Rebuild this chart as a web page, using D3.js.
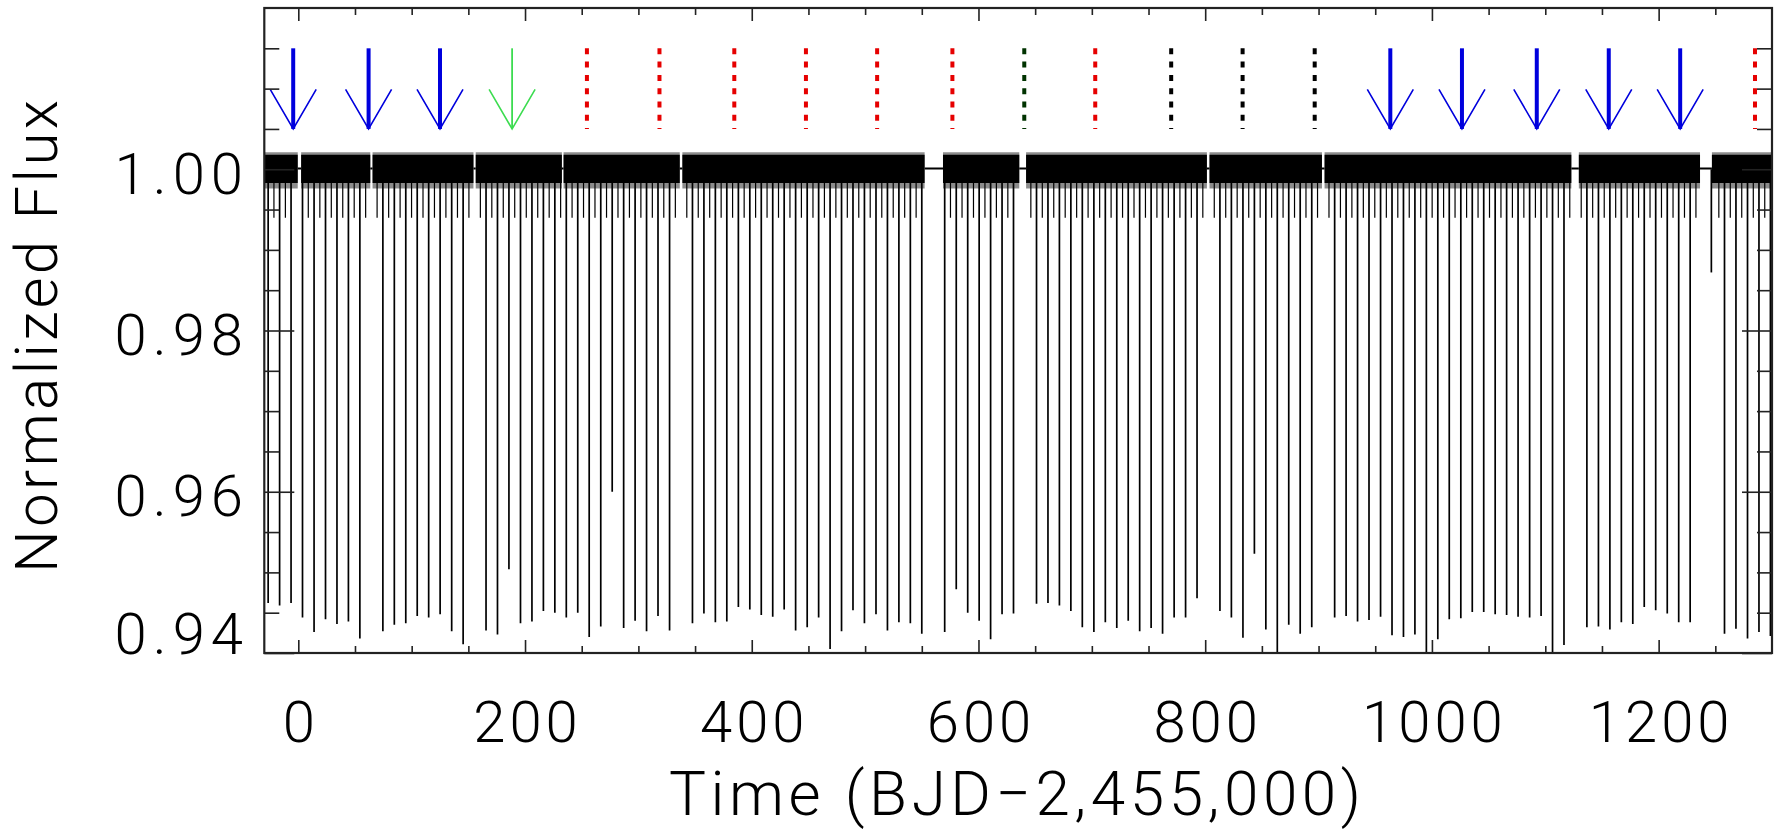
<!DOCTYPE html>
<html>
<head>
<meta charset="utf-8">
<script src="https://cdn.jsdelivr.net/npm/d3@7"></script>
<style>
body { margin: 0; background: #fff; }
text { font-family: Roboto, "Open Sans", "DejaVu Sans", sans-serif; font-weight: 300; fill: #000; }
</style>
</head>
<body>
<div id="chart"></div>
<script>
// primary eclipse times (BJD-2,455,000) and the lowest flux each one reaches, null = no data
var eclipseTimes = [-26.6, -16.5, -6.4, 3.7, 13.9, 24.0, 34.1, 44.2, 54.3, 64.4,
  74.6, 84.7, 94.8, 104.9, 115.0, 125.1, 135.3, 145.4, 155.5, 165.6,
  175.7, 185.8, 196.0, 206.1, 216.2, 226.3, 236.4, 246.5, 256.6, 266.8,
  276.9, 287.0, 297.1, 307.2, 317.3, 327.5, 337.6, 347.7, 357.8, 367.9,
  378.0, 388.2, 398.3, 408.4, 418.5, 428.6, 438.7, 448.9, 459.0, 469.1,
  479.2, 489.3, 499.4, 509.6, 519.7, 529.8, 539.9, 550.0, 560.1, 570.2,
  580.4, 590.5, 600.6, 610.7, 620.8, 630.9, 641.1, 651.2, 661.3, 671.4,
  681.5, 691.6, 701.8, 711.9, 722.0, 732.1, 742.2, 752.3, 762.4, 772.6,
  782.7, 792.8, 802.9, 813.0, 823.1, 833.3, 843.4, 853.5, 863.6, 873.7,
  883.8, 894.0, 904.1, 914.2, 924.3, 934.4, 944.5, 954.7, 964.8, 974.9,
  985.0, 995.1, 1005.2, 1015.3, 1025.5, 1035.6, 1045.7, 1055.8, 1065.9, 1076.0,
  1086.2, 1096.3, 1106.4, 1116.5, 1126.6, 1136.7, 1146.9, 1157.0, 1167.1, 1177.2,
  1187.3, 1197.4, 1207.6, 1217.7, 1227.8, 1237.9, 1246.5, 1258.1, 1268.2, 1278.4,
  1288.5, 1298.6];
var eclipseDepths = [0.9462, 0.9459, 0.9462, 0.9444, 0.9426, 0.9442, 0.9436, 0.9439, 0.9418, null,
  0.9427, 0.9435, 0.9437, 0.9446, 0.9444, 0.9448, 0.9427, 0.9411, null, 0.9428,
  0.9423, 0.9504, 0.9437, 0.9439, 0.9452, 0.9450, 0.9444, 0.9450, 0.9420, 0.9433,
  0.9600, 0.9431, 0.9440, 0.9427, 0.9446, 0.9428, null, 0.9437, 0.9449, 0.9438,
  0.9439, 0.9457, 0.9454, 0.9447, 0.9445, 0.9454, 0.9428, 0.9432, 0.9444, 0.9405,
  0.9427, 0.9453, 0.9437, 0.9448, 0.9428, 0.9438, 0.9437, 0.9424, null, 0.9426,
  0.9479, 0.9450, 0.9440, 0.9417, 0.9448, 0.9449, null, 0.9461, 0.9462, 0.9459,
  0.9452, 0.9432, 0.9426, 0.9438, 0.9431, 0.9440, 0.9427, 0.9431, 0.9424, 0.9444,
  0.9444, 0.9468, null, 0.9452, 0.9444, 0.9419, 0.9523, 0.9429, 0.9392, 0.9435,
  0.9424, 0.9432, null, 0.9444, 0.9446, 0.9439, 0.9441, 0.9445, 0.9422, 0.9420,
  0.9423, 0.9392, 0.9417, 0.9442, 0.9443, 0.9451, 0.9451, 0.9448, 0.9447, 0.9445,
  0.9444, 0.9446, 0.9392, 0.9410, null, 0.9432, 0.9433, 0.9429, 0.9438, 0.9436,
  0.9457, 0.9453, 0.9449, 0.9438, 0.9438, null, 0.9872, 0.9424, 0.9430, 0.9418,
  0.9426, 0.9421];

// secondary eclipses, all shallow
var secondaryTimes = [-21.5, -11.4, 8.8, 19.0, 29.1, 39.2, 49.3, 59.4, 69.5,
  79.7, 89.8, 99.9, 110.0, 120.1, 130.2, 140.4, 150.5, 160.6, 170.7,
  180.8, 190.9, 201.1, 211.2, 221.3, 231.4, 241.5, 251.6, 261.7, 271.9,
  282.0, 292.1, 302.2, 312.3, 322.4, 332.6, 342.7, 352.8, 362.9, 373.0,
  383.1, 393.3, 403.4, 413.5, 423.6, 433.7, 443.8, 454.0, 464.1, 474.2,
  484.3, 494.4, 504.5, 514.7, 524.8, 534.9, 545.0, 575.3,
  585.5, 595.6, 605.7, 615.8, 625.9, 646.2, 656.3, 666.4, 676.5,
  686.6, 696.7, 706.9, 717.0, 727.1, 737.2, 747.3, 757.4, 767.5, 777.7,
  787.8, 797.9, 808.0, 818.1, 828.2, 838.4, 848.5, 858.6, 868.7, 878.8,
  888.9, 899.1, 909.2, 919.3, 929.4, 939.5, 949.6, 959.8, 969.9, 980.0,
  990.1, 1000.2, 1010.3, 1020.4, 1030.6, 1040.7, 1050.8, 1060.9, 1071.0, 1081.1,
  1091.3, 1101.4, 1111.5, 1121.6, 1131.7, 1141.8, 1152.0, 1162.1, 1172.2, 1182.3,
  1192.4, 1202.5, 1212.7, 1222.8, 1232.9, 1253.1, 1263.2, 1273.3, 1283.5,
  1293.6];
var secondaryDepth = 0.9940;

// stretches with data
var segmentStarts = [-30, 2.5, 65.5, 156.5, 234.0, 338.8, 568.7, 642.0, 803.8, 905.3, 1129.6, 1247.0];
var segmentEnds = [-0.5, 63.5, 154.5, 232.5, 336.5, 552.5, 636.0, 801.5, 903.0, 1123.0, 1236.5, 1300];

// planet transit markers
var blueArrows = [-4.5, 62.0, 125.0, 963.3, 1026.5, 1092.5, 1156.0, 1219.0];
var greenArrows = [188.6];
var redMarks = [254.6, 318.6, 384.6, 447.8, 510.6, 577.0, 703.0, 1285.0];
var darkGreenMarks = [640.4];
var blackMarks = [770.0, 833.0, 896.6];

var xMajorTicks = [0, 200, 400, 600, 800, 1000, 1200];
var xMinorTicks = [50, 100, 150, 250, 300, 350, 450, 500, 550, 650, 700, 750, 850, 900, 950, 1050, 1100, 1150, 1250];
var yMajorTicks = [0.94, 0.96, 0.98, 1.00];
var yMinorTicks = [0.945, 0.95, 0.955, 0.965, 0.97, 0.975, 0.985, 0.99, 0.995, 1.005, 1.01, 1.015];

var xLabel = "Time (BJD\u22122,455,000)";
var yLabel = "Normalized Flux";

var width = 1781, height = 831;
var plotLeft = 264.3, plotRight = 1772, plotTop = 8, plotBottom = 653;

var svg = d3.select("#chart").append("svg")
            .attr("width", width)
            .attr("height", height);

var x = d3.scaleLinear().domain([-30, 1300]).range([plotLeft, plotRight]);
var y = d3.scaleLinear().domain([0.94, 1.02]).range([plotBottom, plotTop]);

svg.append("clipPath").attr("id", "plotclip")
   .append("rect")
   .attr("x", plotLeft).attr("y", plotTop)
   .attr("width", plotRight - plotLeft).attr("height", plotBottom - plotTop);

var plot = svg.append("g").attr("clip-path", "url(#plotclip)");

// flux band
var segments = segmentStarts.map(function(s, i) { return [s, segmentEnds[i]]; });
var fringe = d3.area()
               .x(function(d) { return x(d); })
               .y0(function() { return y(0.9976); })
               .y1(function() { return y(1.0021); });
var band = d3.area()
             .x(function(d) { return x(d); })
             .y0(function() { return y(0.9983); })
             .y1(function() { return y(1.0018); });

plot.selectAll(".fringe").data(segments).enter().append("path")
    .attr("d", function(d) { return fringe(d); })
    .attr("fill", "#000")
    .attr("fill-opacity", 0.45);
plot.selectAll(".band").data(segments).enter().append("path")
    .attr("d", function(d) { return band(d); })
    .attr("fill", "#000");

// lines joining across the gaps
var gaps = segmentEnds.slice(0, -1).map(function(e, i) { return [e, segmentStarts[i + 1]]; });
plot.selectAll(".gap").data(gaps).enter().append("line")
    .attr("x1", function(d) { return x(d[0]); })
    .attr("x2", function(d) { return x(d[1]); })
    .attr("y1", y(1.0001))
    .attr("y2", y(1.0001))
    .attr("stroke", "#000")
    .attr("stroke-width", 2);

plot.selectAll(".secondary").data(secondaryTimes).enter().append("line")
    .attr("x1", function(d) { return x(d); })
    .attr("x2", function(d) { return x(d); })
    .attr("y1", y(1.0))
    .attr("y2", y(secondaryDepth))
    .attr("stroke", "#000")
    .attr("stroke-width", 1.2);

var primaries = eclipseTimes.map(function(t, i) { return { t: t, depth: eclipseDepths[i] }; })
                            .filter(function(d) { return d.depth !== null; });
plot.selectAll(".primary").data(primaries).enter().append("line")
    .attr("x1", function(d) { return x(d.t); })
    .attr("x2", function(d) { return x(d.t); })
    .attr("y1", y(1.0))
    .attr("y2", function(d) { return y(d.depth); })
    .attr("stroke", "#000")
    .attr("stroke-width", 1.7);

// markers
var markTop = 1.015, markTip = 1.005, wingLevel = 1.0099, wingHalf = 23;

function drawArrows(times, color, shaftWidth) {
  var g = svg.append("g");
  g.selectAll("line").data(times).enter().append("line")
   .attr("x1", function(d) { return x(d); })
   .attr("x2", function(d) { return x(d); })
   .attr("y1", y(markTop))
   .attr("y2", y(markTip))
   .attr("stroke", color)
   .attr("stroke-width", shaftWidth);
  g.selectAll("path").data(times).enter().append("path")
   .attr("d", function(d) {
     return "M" + (x(d) - wingHalf) + "," + y(wingLevel) +
            "L" + x(d) + "," + y(markTip) +
            "L" + (x(d) + wingHalf) + "," + y(wingLevel);
   })
   .attr("fill", "none")
   .attr("stroke", color)
   .attr("stroke-width", 1.6);
}
drawArrows(blueArrows, "#0000dd", 4);
drawArrows(greenArrows, "#3cdc50", 1.8);

function drawDashes(times, color) {
  svg.append("g").selectAll("line").data(times).enter().append("line")
     .attr("x1", function(d) { return x(d); })
     .attr("x2", function(d) { return x(d); })
     .attr("y1", y(markTop))
     .attr("y2", y(markTip))
     .attr("stroke", color)
     .attr("stroke-width", 4)
     .attr("stroke-dasharray", "6,7.3");
}
drawDashes(redMarks, "#e60000");
drawDashes(darkGreenMarks, "#003300");
drawDashes(blackMarks, "#000");

// axes
function styleAxis(g) {
  g.select(".domain").remove();
  g.selectAll(".tick line").attr("stroke", "#222").attr("stroke-width", 1.6);
}

var gBottomMinor = svg.append("g").attr("transform", "translate(0," + plotBottom + ")")
  .call(d3.axisBottom(x).tickValues(xMinorTicks).tickSize(-7).tickFormat(""));
var gBottom = svg.append("g").attr("transform", "translate(0," + plotBottom + ")")
  .call(d3.axisBottom(x).tickValues(xMajorTicks).tickSize(-13).tickFormat(d3.format("d")));
var gTopMinor = svg.append("g").attr("transform", "translate(0," + plotTop + ")")
  .call(d3.axisTop(x).tickValues(xMinorTicks).tickSize(-7).tickFormat(""));
var gTop = svg.append("g").attr("transform", "translate(0," + plotTop + ")")
  .call(d3.axisTop(x).tickValues(xMajorTicks).tickSize(-13).tickFormat(""));
var gLeftMinor = svg.append("g").attr("transform", "translate(" + plotLeft + ",0)")
  .call(d3.axisLeft(y).tickValues(yMinorTicks).tickSize(-15).tickFormat(""));
var gLeft = svg.append("g").attr("transform", "translate(" + plotLeft + ",0)")
  .call(d3.axisLeft(y).tickValues(yMajorTicks).tickSize(-30).tickFormat(d3.format(".2f")));
var gRightMinor = svg.append("g").attr("transform", "translate(" + plotRight + ",0)")
  .call(d3.axisRight(y).tickValues(yMinorTicks).tickSize(-15).tickFormat(""));
var gRight = svg.append("g").attr("transform", "translate(" + plotRight + ",0)")
  .call(d3.axisRight(y).tickValues(yMajorTicks).tickSize(-30).tickFormat(""));

[gBottomMinor, gBottom, gTopMinor, gTop, gLeftMinor, gLeft, gRightMinor, gRight].forEach(styleAxis);

gBottom.selectAll("text")
       .attr("y", 89)
       .attr("dy", null)
       .attr("dx", 2)
       .attr("font-size", 58)
       .style("letter-spacing", "4px");
gLeft.selectAll("text")
     .attr("x", 249 - plotLeft)
     .attr("dy", null)
     .attr("y", function(d) { return d === 0.94 ? 0 : 24; })
     .attr("font-size", 58)
     .style("letter-spacing", "6px");

svg.append("rect")
   .attr("x", plotLeft).attr("y", plotTop)
   .attr("width", plotRight - plotLeft).attr("height", plotBottom - plotTop)
   .attr("fill", "none")
   .attr("stroke", "#222")
   .attr("stroke-width", 2.2);

svg.append("text")
   .attr("x", 669)
   .attr("y", 815)
   .attr("font-size", 62)
   .attr("textLength", 692)
   .attr("lengthAdjust", "spacing")
   .text(xLabel);

svg.append("text")
   .attr("transform", "translate(57,573) rotate(-90)")
   .attr("font-size", 60)
   .attr("textLength", 473)
   .attr("lengthAdjust", "spacing")
   .text(yLabel);
</script>
</body>
</html>
